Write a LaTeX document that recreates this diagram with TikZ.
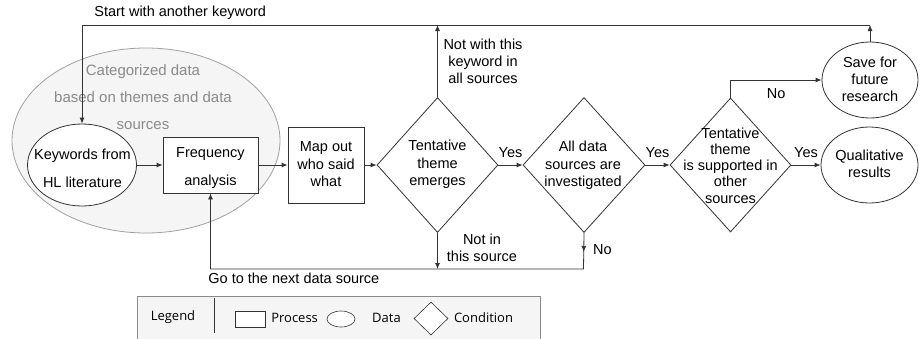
\documentclass[tikz,border=0pt]{standalone}
\usepackage{fontspec}
\setmainfont{Liberation Sans}
\newfontfamily\legendfont{Open Sans}
\usetikzlibrary{arrows.meta, shapes.geometric, decorations.markings}

\definecolor{linegray}{HTML}{333333}
\definecolor{areagray}{HTML}{F5F5F5}
\definecolor{rimgray}{HTML}{A0A0A0}
\definecolor{notegray}{HTML}{8A8A8A}

\begin{document}
\begin{tikzpicture}[x=1pt, y=-1pt, >={Latex[length=6pt, width=5pt]},
                    font=\fontsize{14.5}{17}\selectfont,
                    line width=0.8pt,
                    proc/.style = {draw=linegray, fill=white, rectangle},
                    data/.style = {draw=linegray, fill=white, ellipse},
                    cond/.style = {draw=linegray, fill=white, diamond},
                    txt/.style = {inner sep=0pt, align=center},
                    flow/.style = {->, draw=linegray},
                    midarr/.style = {decoration = {markings,
                                                   mark = at position #1 with {\arrow{>}}},
                                     postaction = decorate}
                   ]

    \path[use as bounding box, clip] (0,0) rectangle (920,338);

    % data area
    \node[ellipse, draw=rimgray, fill=areagray, minimum width=268pt, minimum height=185pt] (area) at (146,140.5) {};
    \node[txt, text=notegray, font=\fontsize{15}{27}\selectfont] (area-t) at (143,97) {Categorized data\\based on themes and data\\sources};

    \node[data, minimum width=109pt, minimum height=82pt] (keyw) at (82,165) {};
    \node[txt, font=\fontsize{14.5}{28}\selectfont] (keyw-t) at (82.5,168) {Keywords from\\HL literature};

    \node[proc, minimum width=95pt, minimum height=56pt] (freq) at (210.5,165) {};
    \node[txt, font=\fontsize{14.5}{28}\selectfont] (freq-t) at (210.5,168) {Frequency\\analysis};

    \node[proc, minimum width=76pt, minimum height=76pt] (map) at (326,165) {};
    \node[txt, font=\fontsize{14.5}{17.5}\selectfont] (map-t) at (326,164.5) {Map out\\who said\\what};

    % conditions
    \node[cond, minimum width=121pt, minimum height=135pt] (emerge) at (437.5,165) {};
    \node[txt, font=\fontsize{14.5}{17.5}\selectfont] (emerge-t) at (437.5,164.5) {Tentative\\theme\\emerges};

    \node[cond, minimum width=122pt, minimum height=135pt] (invest) at (584,165) {};
    \node[txt, font=\fontsize{14.5}{17.5}\selectfont] (invest-t) at (583,165.5) {All data\\sources are\\investigated};

    \node[cond, minimum width=121pt, minimum height=134pt] (support) at (730.5,165) {};
    \node[txt, font=\fontsize{14.5}{16.3}\selectfont] (support-t) at (730.5,165.5) {Tentative\\theme\\is supported in\\other\\sources};

    \node[data, minimum width=96pt, minimum height=76pt] (save) at (870,80) {};
    \node[txt] (save-t) at (870,79) {Save for\\future\\research};

    \node[data, minimum width=97pt, minimum height=76pt] (qual) at (869.5,165) {};
    \node[txt] (qual-t) at (869.5,163.5) {Qualitative\\results};

    \coordinate (topL) at (82,25);
    \coordinate (topR) at (870,25);
    \coordinate (backR) at (583.5,269);

    \draw[flow] (keyw) -- (freq);
    \draw[flow] (freq) -- (map);
    \draw[flow] (map) -- (emerge);
    \draw[flow] (emerge) -- node[txt, above=7pt] (yes1) {Yes} (invest);
    \draw[flow] (invest) -- node[txt, above=7pt] (yes2) {Yes} (support);
    \draw[flow] (support) -- node[txt, above=7pt] (yes3) {Yes} (qual);

    \draw[flow] (support.north) |- node[txt, pos=0.75, below=8pt] (no1) {No} (save.west);

    % back to another keyword
    \draw[flow] (save.north) -- (topR);
    \draw[flow] (topR) -- (topL) -- (keyw.north);
    \node[txt, anchor=west] (restart) at (94,13) {Start with another keyword};
    \draw[flow] (emerge.north) -- (emerge.north |- topR);
    \node[txt, font=\fontsize{14.5}{17}\selectfont] (notkey) at (483,61) {Not with this\\keyword in\\all sources};

    % back to the next data source
    \draw[flow] (emerge.south) -- node[txt, right=9pt, pos=0.4] (notsrc) {Not in\\this source} (emerge.south |- backR);
    \draw[flow, midarr=19pt] (invest.south) -- node[txt, right=9pt, pos=0.45] (no2) {No} (backR) -| (freq.south);
    \node[txt, anchor=west] (nextsrc) at (208,278) {Go to the next data source};

    % legend
    \draw[draw=notegray, fill=areagray, line width=0.6pt] (137,296) rectangle (540,350);
    \begin{scope}[font=\legendfont\fontsize{13}{15}\selectfont, line width=0.6pt]
      \node[txt] (leg) at (173,317) {Legend};
      \draw[draw=linegray] (214,298) -- (214,333);
      \node[draw=linegray, fill=white, minimum width=30pt, minimum height=16pt] (leg-proc) at (250,319) {};
      \node[txt, anchor=west] (leg-proc-t) at (271,318) {Process};
      \node[ellipse, draw=linegray, fill=white, minimum width=28pt, minimum height=16pt] (leg-data) at (341,319) {};
      \node[txt] (leg-data-t) at (386.5,318) {Data};
      \node[diamond, draw=linegray, fill=white, minimum width=34pt, minimum height=33pt] (leg-cond) at (431,318.5) {};
      \node[txt] (leg-cond-t) at (483.5,318) {Condition};
    \end{scope}

\end{tikzpicture}
\end{document}
